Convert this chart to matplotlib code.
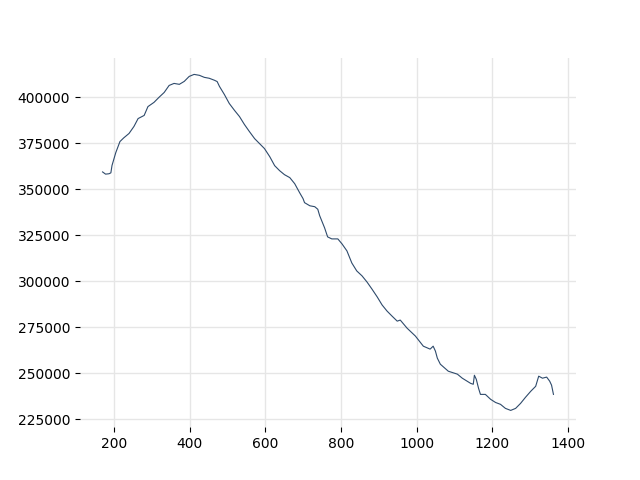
import matplotlib
matplotlib.use("Agg")
import matplotlib.pyplot as plt

# values
x_vals = [170, 178, 187, 192, 195, 205, 216, 226, 240, 253, 264, 280, 290, 306,
          319, 333, 346, 359, 373, 386, 399, 412, 426, 439, 452, 466, 473, 479,
          492, 505, 519, 532, 545, 558, 572, 585, 598, 612, 625, 638, 651, 665,
          678, 691, 700, 704, 718, 731, 739, 744, 757, 765, 776, 792, 803, 816,
          829, 842, 856, 869, 882, 896, 909, 922, 935, 949, 957, 975, 997, 1018,
          1036, 1044, 1050, 1055, 1063, 1084, 1108, 1121, 1143, 1150, 1153, 1158,
          1164, 1169, 1182, 1196, 1209, 1222, 1235, 1249, 1262, 1275, 1288, 1302,
          1315, 1323, 1333, 1344, 1352, 1357, 1362]
y_vals = [359500, 358300, 358500, 359000, 363000, 370000, 376000, 378000, 380400,
          384200, 388500, 390200, 395000, 397300, 400000, 402700, 406500, 407600,
          407100, 408700, 411400, 412500, 412000, 410900, 410400, 409300, 408600,
          406000, 401600, 396700, 392900, 389600, 385300, 381500, 377600, 374900,
          372200, 367800, 362900, 360200, 358000, 356400, 353100, 348200, 345000,
          342800, 341100, 340600, 339200, 335700, 329100, 324200, 323100, 323100,
          320400, 316600, 310000, 305700, 303000, 299700, 295900, 291600, 287200,
          283900, 281200, 278400, 279000, 274600, 270300, 264800, 263200, 264800,
          262100, 258300, 255000, 251200, 249600, 247400, 244600, 244100, 249000,
          246800, 241900, 238600, 238600, 235900, 234200, 233200, 231000, 229900,
          231000, 233700, 237000, 240300, 243000, 248500, 247400, 248000, 245800,
          243600, 238600]

fig, ax = plt.subplots(figsize=(6.4, 4.8), dpi=100)

ax.plot(x_vals, y_vals, color="#2e4a6b", linewidth=0.8)

ax.set_xticks([200, 400, 600, 800, 1000, 1200, 1400])
ax.set_yticks([225000, 250000, 275000, 300000, 325000, 350000, 375000, 400000])
ax.grid(True, color="#e6e6e6", linewidth=1)
ax.set_axisbelow(True)
for side in ["top", "right", "bottom", "left"]:
    ax.spines[side].set_visible(False)

plt.savefig("out.png", dpi=100)
plt.close()
